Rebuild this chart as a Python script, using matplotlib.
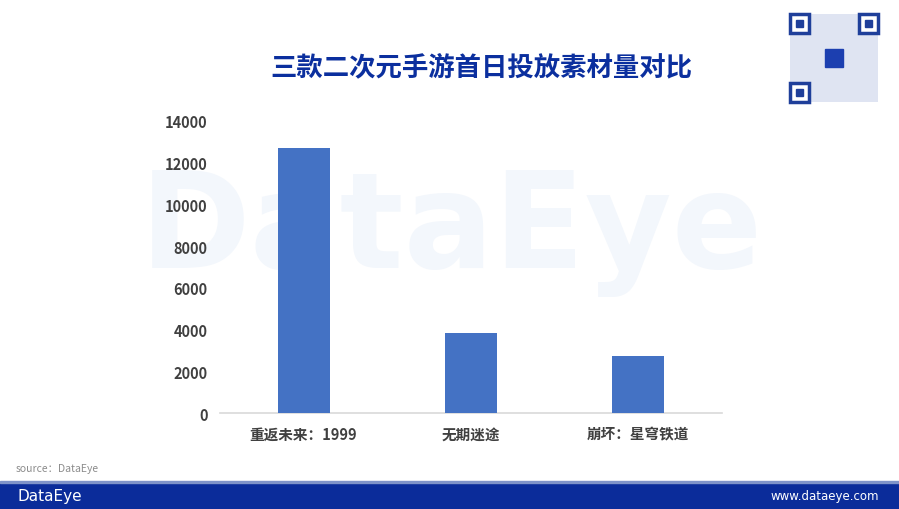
import matplotlib
matplotlib.use("Agg")
import matplotlib.pyplot as plt
from matplotlib.patches import Rectangle

plt.rcParams['font.family'] = ['Noto Sans CJK SC', 'DejaVu Sans']

# 数据
games = ['重返未来：1999', '无期迷途', '崩坏：星穹铁道']
materials = [12700, 3840, 2720]
yticks = [0, 2000, 4000, 6000, 8000, 10000, 12000, 14000]

fig = plt.figure(figsize=(8.99, 5.10), dpi=100)
fig.patch.set_facecolor('white')

# 水印（参考图中位于坐标轴后面）
fig.text(0.502, 0.545, 'DataEye', ha='center', va='center', fontsize=96,
         color='#f3f7fc', family='DejaVu Sans', fontweight='bold', zorder=-1)

ax = fig.add_axes([0.2447, 0.188, 0.558, 0.573])
ax.patch.set_alpha(0)
ax.bar(range(len(games)), materials, width=0.31, color='#4472c4', zorder=3)
ax.set_xlim(-0.5, 2.5)
ax.set_ylim(0, 14000)
ax.set_yticks(yticks)
ax.set_yticklabels([str(v) for v in yticks], fontsize=10.5, fontweight='bold',
                   color='#404040')
ax.set_xticks(range(len(games)))
ax.set_xticklabels(games, fontsize=10.5, fontweight='bold', color='#404040')
ax.tick_params(axis='both', length=0, pad=9)
for s in ['top', 'right', 'left']:
    ax.spines[s].set_visible(False)
ax.spines['bottom'].set_color('#d9d9d9')
ax.spines['bottom'].set_linewidth(1.2)

fig.text(0.536, 0.868, '三款二次元手游首日投放素材量对比', ha='center', va='center',
         fontsize=19, fontweight='heavy', color='#0b2f9e')

# 来源
fig.text(0.017, 0.08, 'source：DataEye', ha='left', va='center', fontsize=7.5,
         style='italic', color='#8c8c8c')

# 底部条
fig.add_artist(Rectangle((0, 0), 1, 0.051, transform=fig.transFigure,
                         color='#0b2c9a', zorder=1))
fig.add_artist(Rectangle((0, 0.051), 1, 0.003, transform=fig.transFigure,
                         color='#7f93c9', zorder=1))
fig.text(0.02, 0.026, 'DataEye', ha='left', va='center', fontsize=11,
         color='white', family='DejaVu Sans', zorder=2)
fig.text(0.978, 0.026, 'www.dataeye.com', ha='right', va='center', fontsize=8.5,
         color='white', family='DejaVu Sans', zorder=2)

# 二维码示意
qx, qy, qs = 790 / 899, 1 - 103 / 510, 88
qw, qh = qs / 899, qs / 510
fig.add_artist(Rectangle((qx, qy), qw, qh, transform=fig.transFigure,
                         facecolor='#dfe4f2', edgecolor='none', zorder=1))
for fx, fy in [(0, 1), (1, 1), (0, 0)]:
    px = qx + fx * qw * 0.78
    py = qy + fy * qh * 0.78
    fig.add_artist(Rectangle((px, py), qw * 0.22, qh * 0.22, transform=fig.transFigure,
                             facecolor='white', edgecolor='#1f3f9a', linewidth=2.5, zorder=2))
    fig.add_artist(Rectangle((px + qw * 0.07, py + qh * 0.07), qw * 0.08, qh * 0.08,
                             transform=fig.transFigure, color='#1f3f9a', zorder=3))
fig.add_artist(Rectangle((qx + qw * 0.4, qy + qh * 0.4), qw * 0.2, qh * 0.2,
                         transform=fig.transFigure, color='#1c3fb0', zorder=2))

fig.savefig('out.png', dpi=100)
